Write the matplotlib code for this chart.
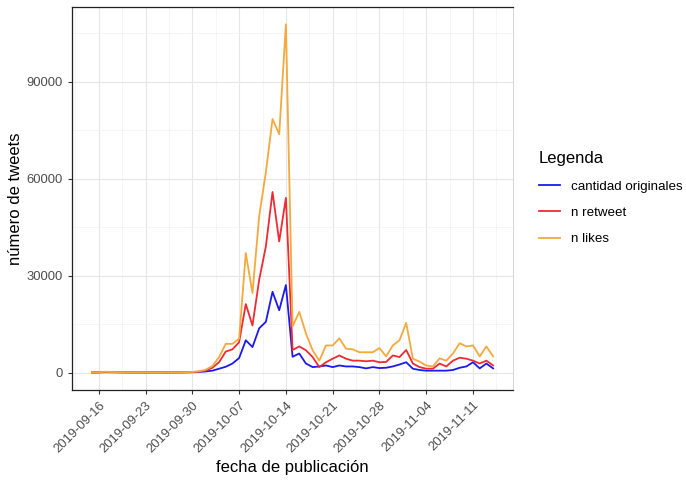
import matplotlib
matplotlib.use("Agg")
import matplotlib.pyplot as plt
import matplotlib.dates as mdates
import numpy as np
import pandas as pd

plt.rcParams['font.family'] = ['Liberation Sans', 'DejaVu Sans']

# daily values, 2019-09-15 .. 2019-11-14
fechas = pd.date_range("2019-09-15", "2019-11-14", freq="D")

originales = [40, 60, 120, 90, 70, 60, 50, 50, 40, 50, 60, 40, 50, 60, 80, 100,
              200, 350, 600, 1200, 1800, 2800, 4500, 10000, 7900, 13700, 15700, 25000, 19300, 27100,
              4900, 5900, 2800, 1700, 1900, 2200, 1700, 2200, 1900, 1900, 1700, 1300, 1700, 1400,
              1500, 1900, 2500, 3200, 1200, 800, 600, 600, 600, 600, 800, 1500, 1900, 3200, 1300, 2800, 1300]

retweet = [60, 80, 200, 150, 100, 80, 70, 70, 60, 70, 80, 60, 70, 80, 100, 150,
           300, 600, 1500, 3200, 6500, 7200, 9400, 21200, 14600, 28700, 39000, 55900, 40600, 54100,
           7000, 8100, 6900, 4800, 1700, 3200, 4300, 5300, 4300, 3700, 3700, 3500, 3700, 3200,
           3300, 5300, 4800, 7000, 2800, 1700, 1200, 1200, 2800, 1900, 3700, 4600, 4300, 3700, 2800, 3700, 2200]

likes = [80, 100, 250, 180, 120, 100, 90, 90, 80, 90, 100, 80, 90, 100, 150, 200,
         400, 900, 2000, 4800, 8900, 8900, 10500, 37000, 24600, 48400, 62000, 78500, 73800, 107800,
         14300, 18800, 12100, 6900, 3700, 8400, 8400, 10600, 7400, 7200, 6300, 6300, 6300, 7600,
         5000, 8400, 10000, 15400, 4300, 3400, 2200, 1900, 4400, 3700, 5900, 9100, 8100, 8400, 5000, 8100, 5000]

series = ["cantidad originales", "n retweet", "n likes"]
colores = ["#1a1aee", "#ee2a33", "#f5a83c"]

fig = plt.figure(figsize=(6.86, 4.8), dpi=100)
ax = fig.add_axes([0.105, 0.1875, 0.643, 0.798])

for vals, name, c in zip([originales, retweet, likes], series, colores):
    ax.plot(fechas, vals, color=c, lw=1.3, label=name)

# x axis: weekly breaks on Mondays, minor in the middle
x0 = mdates.date2num(pd.Timestamp("2019-09-16"))
majors = [x0 + 7 * i for i in range(9)]
minors = [m - 3.5 for m in majors] + [majors[-1] + 3.5]
ax.set_xticks(majors)
ax.set_xticks(minors, minor=True)
ax.xaxis.set_major_formatter(mdates.DateFormatter("%Y-%m-%d"))
span = mdates.date2num(fechas[-1]) - mdates.date2num(fechas[0])
ax.set_xlim(mdates.date2num(fechas[0]) - 0.05 * span, mdates.date2num(fechas[-1]) + 0.05 * span)

ymax = max(likes)
ax.set_ylim(-0.05 * ymax, 1.05 * ymax)
ax.set_yticks([0, 30000, 60000, 90000])
ax.set_yticks([15000, 45000, 75000, 105000], minor=True)
ax.set_yticklabels(["0", "30000", "60000", "90000"])

ax.grid(which="major", color="#e6e6e6", lw=0.8)
ax.grid(which="minor", color="#f2f2f2", lw=0.5)
ax.set_axisbelow(True)

for s in ["left", "bottom", "top"]:
    ax.spines[s].set_color("#222222")
    ax.spines[s].set_linewidth(0.9)
ax.spines["right"].set_color("#d0d0d0")
ax.spines["right"].set_linewidth(0.6)

ax.tick_params(which="major", length=3, color="#333333", labelcolor="#4d4d4d", labelsize=9.4)
ax.tick_params(which="minor", length=0)
for lab in ax.get_xticklabels():
    lab.set_rotation(45)
    lab.set_ha("right")
    lab.set_rotation_mode("anchor")

ax.set_xlabel("fecha de publicación", fontsize=12, labelpad=4)
ax.set_ylabel("número de tweets", fontsize=12, labelpad=3)

leg = fig.legend(loc="upper left", bbox_to_anchor=(0.768, 0.71), frameon=False,
                 title="Legenda", fontsize=9.6, title_fontsize=12,
                 handlelength=1.6, labelspacing=1.05, alignment="left")

fig.savefig("out.png", dpi=100)
